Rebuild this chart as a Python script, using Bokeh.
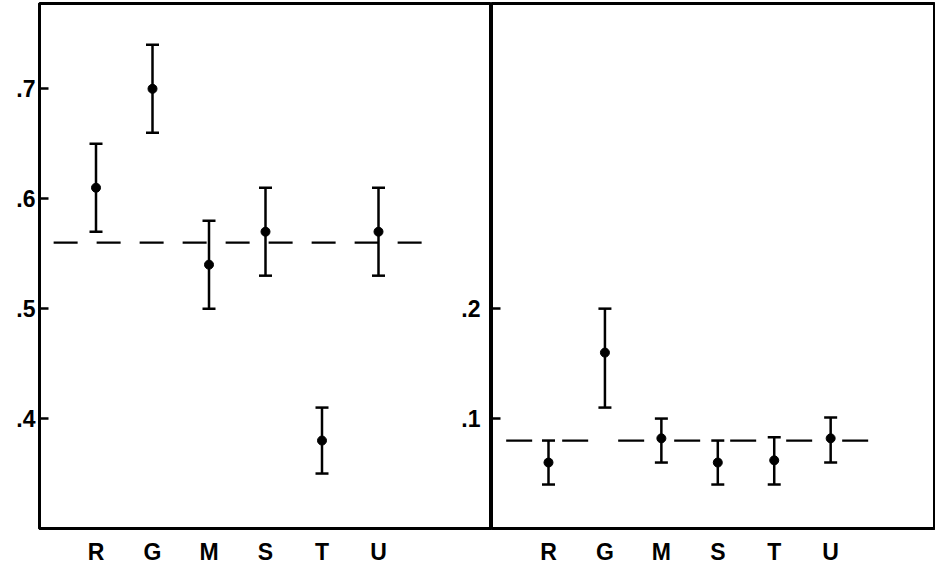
from bokeh.plotting import figure
from bokeh.models import (ColumnDataSource, Whisker, TeeHead, Range1d, FixedTicker,
                          CustomJSTickFormatter)
from bokeh.layouts import row
from bokeh.embed import file_html
from bokeh.resources import INLINE
from bokeh.core.properties import value

# ---- data ----
categories = ["R", "G", "M", "S", "T", "U"]
cat_pos = [1, 2, 3, 4, 5, 6]

left_mean = [0.61, 0.70, 0.54, 0.57, 0.38, 0.57]
left_upper = [0.65, 0.74, 0.58, 0.61, 0.41, 0.61]
left_lower = [0.57, 0.66, 0.50, 0.53, 0.35, 0.53]
left_ref = 0.56
left_ticks = [0.4, 0.5, 0.6, 0.7]
left_tick_labels = [".4", ".5", ".6", ".7"]

right_mean = [0.06, 0.16, 0.082, 0.06, 0.062, 0.082]
right_upper = [0.08, 0.20, 0.10, 0.08, 0.083, 0.101]
right_lower = [0.04, 0.11, 0.06, 0.04, 0.04, 0.06]
right_ref = 0.08
right_ticks = [0.1, 0.2]
right_tick_labels = [".1", ".2"]

FONT = "Liberation Sans"
LABEL_SIZE = "23px"
H = 567


def base_fig(width, xr, yr, border_left, border_right):
    p = figure(width=width, height=H, x_range=xr, y_range=yr,
               output_backend="svg", toolbar_location=None,
               min_border_left=border_left, min_border_right=border_right,
               min_border_top=3, min_border_bottom=36)
    p.background_fill_color = "white"
    p.border_fill_color = "white"
    p.xgrid.visible = False
    p.ygrid.visible = False
    p.outline_line_color = "black"
    p.outline_line_width = 3
    xa = p.xaxis[0]
    xa.ticker = FixedTicker(ticks=cat_pos)
    xa.major_label_overrides = {c: l for c, l in zip(cat_pos, categories)}
    xa.major_tick_in = 0
    xa.major_tick_out = 0
    xa.minor_tick_in = 0
    xa.minor_tick_out = 0
    xa.axis_line_width = 3
    xa.major_label_standoff = 10
    xa.major_label_text_font = FONT
    xa.major_label_text_font_style = "bold"
    xa.major_label_text_font_size = LABEL_SIZE
    xa.major_label_text_color = "black"
    return p


def add_series(p, mean, upper, lower, ref, dash):
    src = ColumnDataSource(dict(x=cat_pos, m=mean, hi=upper, lo=lower))
    w = Whisker(source=src, base="x", upper="hi", lower="lo", dimension="height",
                line_width=2.5, line_color="black",
                upper_head=TeeHead(size=13, line_width=2.5, line_color="black"),
                lower_head=TeeHead(size=13, line_width=2.5, line_color="black"))
    p.add_layout(w)
    p.scatter("x", "m", source=src, size=9, color="black")
    xs = [cat_pos[0] - 0.75, cat_pos[-1] + 0.85]
    p.line(xs, [ref, ref], line_color="black", line_width=2.2, line_dash=dash)


# ---- left panel ----
left = base_fig(491, Range1d(0, 8.0), Range1d(0.3, 0.7776), 39, 0)
left.extra_y_ranges = {"r": Range1d(0, 0.4776)}
ya = left.yaxis[0]
ya.ticker = FixedTicker(ticks=left_ticks)
ya.major_label_overrides = {t: l for t, l in zip(left_ticks, left_tick_labels)}
ya.major_tick_in = 9
ya.major_tick_out = 0
ya.major_tick_line_width = 2.5
ya.minor_tick_in = 0
ya.minor_tick_out = 0
ya.axis_line_width = 3
ya.major_label_standoff = 4
ya.major_label_text_font = FONT
ya.major_label_text_font_style = "bold"
ya.major_label_text_font_size = LABEL_SIZE
ya.major_label_text_color = "black"
add_series(left, left_mean, left_upper, left_lower, left_ref, "24 19")

# labels of the middle (right-panel) axis sit inside the left panel
left.text(x=[8.0] * len(right_ticks), y=right_ticks, text=right_tick_labels,
          y_range_name="r", x_offset=-11, text_align="right", text_baseline="middle",
          text_font=value(FONT), text_font_style="bold", text_font_size=LABEL_SIZE,
          text_color="black")

# ---- right panel ----
right = base_fig(444, Range1d(-0.01, 7.84), Range1d(0, 0.4776), 0, 1)
yb = right.yaxis[0]
yb.ticker = FixedTicker(ticks=right_ticks)
yb.formatter = CustomJSTickFormatter(code="return ''")
yb.major_tick_in = 9
yb.major_tick_out = 0
yb.major_tick_line_width = 2.5
yb.minor_tick_in = 0
yb.minor_tick_out = 0
yb.axis_line_color = None
yb.major_label_standoff = 0
yb.major_label_text_font_size = "1px"
add_series(right, right_mean, right_upper, right_lower, right_ref, "26 30")

layout = row(left, right, spacing=0)
open("out.html", "w").write(file_html(layout, INLINE))
